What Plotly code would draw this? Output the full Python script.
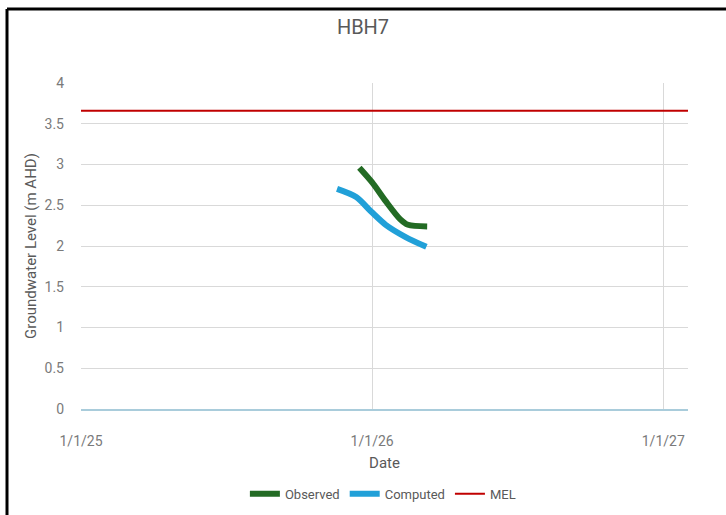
import plotly.graph_objects as go

# Groundwater level series for bore HBH7
obs_dates = ["2025-12-16", "2026-01-01", "2026-01-18", "2026-02-05", "2026-02-15", "2026-03-11"]
obs_levels = [2.96, 2.78, 2.55, 2.33, 2.26, 2.24]

comp_dates = ["2025-11-18", "2025-12-12", "2025-12-31", "2026-01-18", "2026-02-12", "2026-03-10"]
comp_levels = [2.70, 2.60, 2.42, 2.26, 2.11, 1.99]

mel_dates = ["2025-01-01", "2027-02-01"]
mel_levels = [3.66, 3.66]

y_ticks = [0, 0.5, 1, 1.5, 2, 2.5, 3, 3.5, 4]
y_tick_text = ["0", "0.5", "1", "1.5", "2", "2.5", "3", "3.5", "4"]
x_ticks = ["2025-01-01", "2026-01-01", "2027-01-01"]
x_tick_text = ["1/1/25", "1/1/26", "1/1/27"]

FONT = "Roboto"
GREY = "#595959"
TICK_GREY = "#7A7A7A"

fig = go.Figure()
fig.add_trace(go.Scatter(x=obs_dates, y=obs_levels, name="Observed", mode="lines",
                         line=dict(color="#236B24", width=6, shape="spline", smoothing=0.8)))
fig.add_trace(go.Scatter(x=comp_dates, y=comp_levels, name="Computed", mode="lines",
                         line=dict(color="#21A0D8", width=6, shape="spline", smoothing=0.8)))
fig.add_trace(go.Scatter(x=mel_dates, y=mel_levels, name="MEL", mode="lines",
                         line=dict(color="#C00000", width=2)))

fig.update_layout(
    width=726, height=515,
    margin=dict(l=81, r=38, t=83, b=106, autoexpand=False),
    paper_bgcolor="white", plot_bgcolor="white",
    font=dict(family=FONT, color=GREY, size=13),
    title=dict(text="HBH7", x=0.5, xanchor="center", y=1 - 27 / 515, yanchor="middle",
               font=dict(size=20, color=GREY, family=FONT)),
    legend=dict(orientation="h", x=0.27, xanchor="left", y=-0.26, yanchor="middle",
                font=dict(size=13, color=GREY, family=FONT), itemwidth=30,
                bgcolor="rgba(0,0,0,0)"),
    showlegend=True,
)

fig.update_xaxes(
    type="date", range=["2025-01-01", "2027-02-01"],
    tickvals=x_ticks, ticktext=x_tick_text,
    showgrid=True, gridcolor="#D9D9D9", gridwidth=1,
    showline=True, linecolor="#A9CCDB", linewidth=1.5,
    ticks="", tickfont=dict(size=14, color=TICK_GREY), ticklabelstandoff=18,
    title=dict(text="Date", font=dict(size=15, color=GREY), standoff=10),
    zeroline=False, automargin=False,
)
fig.update_yaxes(
    range=[0, 4], tickvals=y_ticks, ticktext=y_tick_text,
    showgrid=True, gridcolor="#D9D9D9", gridwidth=1,
    showline=False, zeroline=False, ticks="",
    tickfont=dict(size=14, color=TICK_GREY), ticklabelstandoff=16,
    title=dict(text="Groundwater Level (m AHD)", font=dict(size=15, color=GREY), standoff=4),
    automargin=False,
)

# frame lines along the top and left edges of the chart area
fig.add_shape(type="line", xref="paper", yref="paper", x0=-0.1219, x1=1.1, y0=1.227, y1=1.227,
              line=dict(color="black", width=3))
fig.add_shape(type="line", xref="paper", yref="paper", x0=-0.1219, x1=-0.1219, y0=1.227, y1=-0.33,
              line=dict(color="black", width=3))

fig.write_html("out.html")
